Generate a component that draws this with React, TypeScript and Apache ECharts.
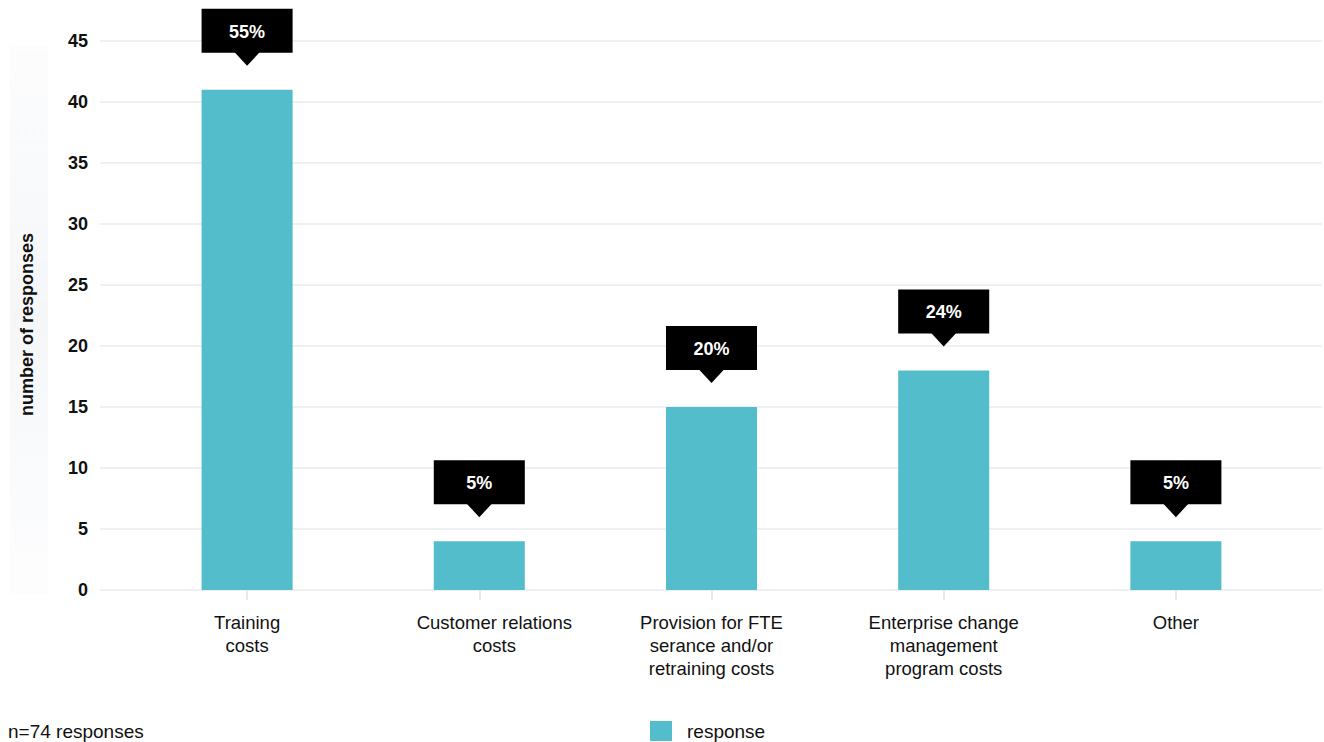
import React, { useEffect, useRef } from "react";
import * as echarts from "echarts";

const categories = [
  "Training\ncosts",
  "Customer relations\ncosts",
  "Provision for FTE\nserance and/or\nretraining costs",
  "Enterprise change\nmanagement\nprogram costs",
  "Other",
];
const responses = [41, 4, 15, 18, 4];
const percentLabels = ["55%", "5%", "20%", "24%", "5%"];
const yTicks = { min: 0, max: 45, interval: 5 };

const FONT = "'Liberation Sans', Arial, sans-serif";

export default function App() {
  const ref = useRef<HTMLDivElement>(null);
  useEffect(() => {
    const chart = echarts.init(ref.current!, null, { renderer: "svg" });
    const option: any = {
      animation: false,
      textStyle: { fontFamily: FONT },
      graphic: [
        {
          type: "rect",
          left: 10,
          top: 45,
          shape: { width: 38, height: 550 },
          style: {
            fill: new echarts.graphic.LinearGradient(0, 0, 0, 1, [
              { offset: 0, color: "rgba(246,247,249,0.3)" },
              { offset: 0.5, color: "rgba(244,246,248,1)" },
              { offset: 1, color: "rgba(248,249,251,0.3)" },
            ]),
          },
          z: -10,
        },
        {
          type: "text",
          left: 8,
          top: 722,
          style: { text: "n=74 responses", font: `19px ${FONT}`, fill: "#111" },
        },
      ],
      legend: {
        data: ["response"],
        left: 650,
        top: 721,
        padding: 0,
        itemWidth: 22,
        itemHeight: 20,
        itemGap: 14,
        icon: "rect",
        textStyle: { fontSize: 19, color: "#111", fontFamily: FONT, padding: [0, 0, 0, 10] },
      },
      grid: [
        { left: 100, right: 2, top: 41, bottom: 152 },
        { left: 131, right: 32, top: 41, bottom: 152 },
      ],
      xAxis: [
        { type: "value", gridIndex: 0, min: 0, max: 1, show: false },
        {
          type: "category",
          gridIndex: 1,
          data: categories,
          axisLine: { show: false },
          axisTick: { show: true, alignWithLabel: true, length: 10, lineStyle: { color: "#e6e9ee", width: 2 } },
          axisLabel: {
            color: "#111",
            fontSize: 18.5,
            lineHeight: 23,
            margin: 21,
            interval: 0,
            fontFamily: FONT,
            formatter: (v: string, i: number) =>
              i === 1
                ? v
                    .split("\n")
                    .map((s) => `{off|${s}}`)
                    .join("\n")
                : v,
            rich: {
              off: {
                padding: [0, 0, 0, 30],
                fontSize: 18.5,
                lineHeight: 23,
                color: "#111",
                fontFamily: FONT,
              },
            },
          },
        },
      ],
      yAxis: [
        {
          type: "value",
          gridIndex: 0,
          min: yTicks.min,
          max: yTicks.max,
          interval: yTicks.interval,
          name: "number of responses",
          nameLocation: "middle",
          nameGap: 64,
          nameTextStyle: {
            fontSize: 18,
            fontWeight: "bold",
            color: "#111",
            fontFamily: FONT,
            padding: [0, 18, 0, 0],
          },
          axisLine: { show: false },
          axisTick: { show: false },
          axisLabel: { fontSize: 18, fontWeight: "bold", color: "#111", margin: 12, fontFamily: FONT },
          splitLine: { lineStyle: { color: "#eef0f3", width: 2 } },
        },
        {
          type: "value",
          gridIndex: 1,
          min: yTicks.min,
          max: yTicks.max,
          interval: yTicks.interval,
          show: false,
          splitLine: { show: false },
        },
      ],
      series: [
        {
          name: "response",
          type: "bar",
          xAxisIndex: 1,
          yAxisIndex: 1,
          data: responses,
          barWidth: "39.2%",
          itemStyle: { color: "#53bdcb" },
        },
        {
          name: "callout",
          type: "custom",
          xAxisIndex: 1,
          yAxisIndex: 1,
          data: responses.map((v, i) => [i, v]),
          z: 5,
          renderItem: (params: any, api: any) => {
            const p = api.coord([api.value(0), api.value(1)]);
            const w = api.size([1, 0])[0] * 0.392;
            const x = p[0];
            const topBar = p[1];
            const tip = topBar - 24;
            const boxBottom = tip - 13;
            const boxTop = boxBottom - 44;
            return {
              type: "group",
              children: [
                {
                  type: "rect",
                  shape: { x: x - w / 2, y: boxTop, width: w, height: 44 },
                  style: { fill: "#000" },
                },
                {
                  type: "polygon",
                  shape: {
                    points: [
                      [x - 13, boxBottom - 1],
                      [x + 13, boxBottom - 1],
                      [x, tip],
                    ],
                  },
                  style: { fill: "#000" },
                },
                {
                  type: "text",
                  x: x,
                  y: boxTop + 23,
                  style: {
                    text: percentLabels[params.dataIndex],
                    fill: "#fff",
                    font: `bold 18px ${FONT}`,
                    align: "center",
                    verticalAlign: "middle",
                  },
                },
              ],
            };
          },
        },
      ],
    };
    chart.setOption(option);
    return () => chart.dispose();
  }, []);
  return (
    <div
      ref={ref}
      style={{ position: "absolute", left: 0, top: 0, width: 1324, height: 742 }}
    />
  );
}
